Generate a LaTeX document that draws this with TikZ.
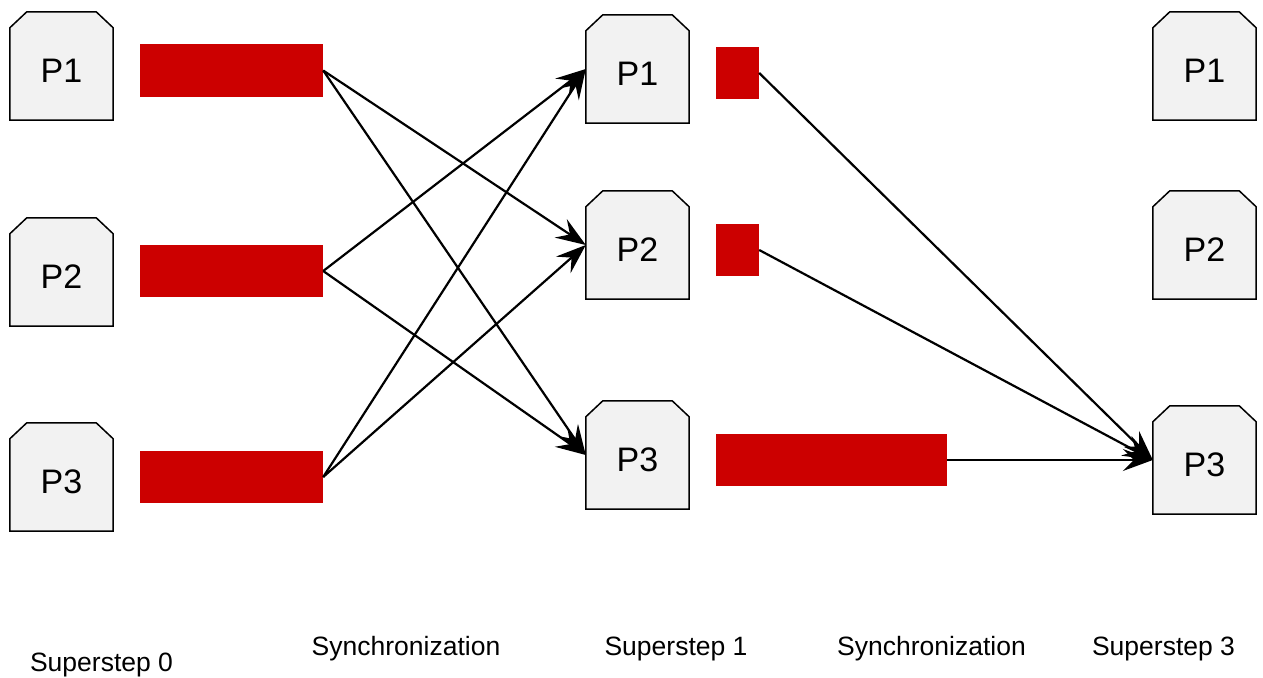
\documentclass[tikz,border=0pt]{standalone}
\usepackage{fontspec}
\setmainfont{Liberation Sans}
\usetikzlibrary{arrows.meta,backgrounds}
\definecolor{boxfill}{HTML}{F2F2F2}
\definecolor{barred}{HTML}{CC0000}
\begin{document}
\begin{tikzpicture}[x=1pt,y=-1pt,
  proc/.style={rectangle, minimum width=103pt, minimum height=108pt,
    inner sep=0pt, text height=33pt, text depth=0pt, font=\fontsize{34}{38}\selectfont},
  procline/.style={draw=black, line width=1.5pt, fill=boxfill, line join=miter},
  bar/.style={rectangle, fill=barred, inner sep=0pt},
  msg/.style={draw=black, line width=2.2pt, -{Stealth[length=30pt,width=22pt,inset=11pt]}},
  lbl/.style={font=\fontsize{26.5}{30}\selectfont, inner sep=0pt}]
\useasboundingbox (0,0) rectangle (1263,677);
% column 0
\node[proc] (a1) at (61.5,66) {P1};
\node[proc] (a2) at (61.5,272) {P2};
\node[proc] (a3) at (61.5,477) {P3};
\node[bar, minimum width=183pt, minimum height=52pt] (b1) at (231.5,70.5) {};
\node[bar, minimum width=183pt, minimum height=52pt] (b2) at (231.5,271) {};
\node[bar, minimum width=183pt, minimum height=52pt] (b3) at (231.5,477) {};
% column 1
\node[proc] (c1) at (637.5,69) {P1};
\node[proc] (c2) at (637.5,245) {P2};
\node[proc] (c3) at (637.5,455) {P3};
\node[bar, minimum width=43pt, minimum height=52pt] (d1) at (737.5,73) {};
\node[bar, minimum width=43pt, minimum height=52pt] (d2) at (737.5,250) {};
\node[bar, minimum width=231pt, minimum height=52pt] (d3) at (831.5,460) {};
% column 2
\node[proc] (e1) at (1204.5,66) {P1};
\node[proc] (e2) at (1204.5,245) {P2};
\node[proc] (e3) at (1204.5,460) {P3};
% chamfered outlines behind the process labels
\begin{pgfonlayer}{background}
\foreach \n in {a1,a2,a3,c1,c2,c3,e1,e2,e3}
  \draw[procline] (\n.south west) -- ([yshift=-16pt]\n.north west) -- ([xshift=17pt]\n.north west)
    -- ([xshift=-17pt]\n.north east) -- ([yshift=-16pt]\n.north east) -- (\n.south east) -- cycle;
\end{pgfonlayer}
% messages
\draw[msg] (b1.east) -- (c2.west);
\draw[msg] (b1.east) -- (c3.west);
\draw[msg] (b2.east) -- (c1.west);
\draw[msg] (b2.east) -- (c3.west);
\draw[msg] (b3.east) -- (c1.west);
\draw[msg] (b3.east) -- (c2.west);
\draw[msg] (d1.east) -- (e3.west);
\draw[msg] (d2.east) -- (e3.west);
\draw[msg] (d3.east) -- (e3.west);
% labels
\node[lbl] (l0) at (101.5,665) {Superstep 0};
\node[lbl] (l1) at (406,649) {Synchronization};
\node[lbl] (l2) at (676,649) {Superstep 1};
\node[lbl] (l3) at (931.5,649) {Synchronization};
\node[lbl] (l4) at (1163.5,649) {Superstep 3};
\end{tikzpicture}
\end{document}
